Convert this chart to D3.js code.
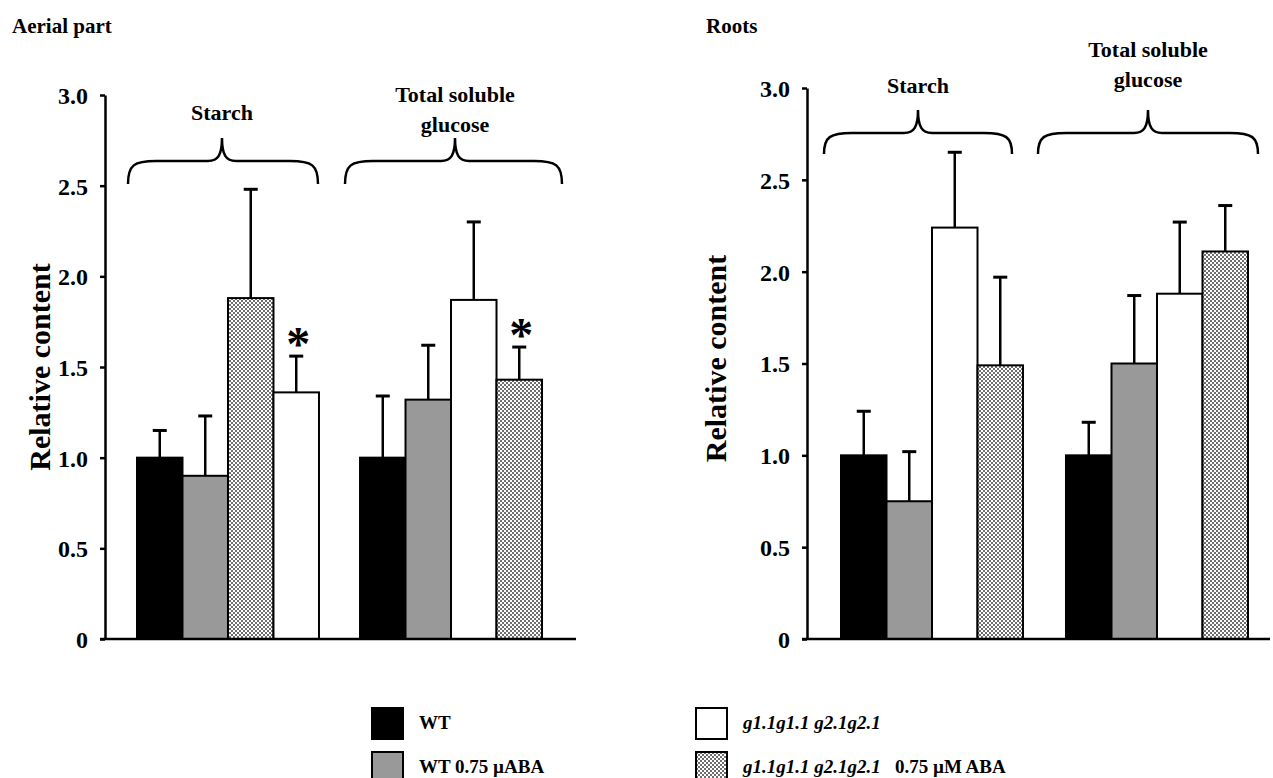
<!DOCTYPE html>
<html>
<head>
<meta charset="utf-8">
<script src="https://cdn.jsdelivr.net/npm/d3@7"></script>
<style>
  html, body { margin: 0; padding: 0; background: #fff; }
  svg { display: block; }
  text { font-family: "Liberation Serif", "Times New Roman", serif; font-weight: bold; fill: #000; }
</style>
</head>
<body>
<svg id="chart" width="1273" height="778"></svg>
<script>
// Groups along the x axis
const groups = ["Starch", "Total soluble glucose"];
const yTicks = [0, 0.5, 1.0, 1.5, 2.0, 2.5, 3.0];
const yTickLabels = ["0", "0.5", "1.0", "1.5", "2.0", "2.5", "3.0"];

// Series keys (fill style)
const seriesKeys = ["wt", "wtABA", "mut", "mutABA"];

// Aerial part: means, upper SD, and the series drawn in each slot
const aerialMean = [[1.00, 0.90, 1.88, 1.36], [1.00, 1.32, 1.87, 1.43]];
const aerialErr  = [[0.15, 0.33, 0.60, 0.20], [0.34, 0.30, 0.43, 0.18]];
const aerialSlots = [["wt", "wtABA", "mutABA", "mut"], ["wt", "wtABA", "mut", "mutABA"]];
const aerialStars = [[false, false, false, true], [false, false, false, true]];

// Roots: means, upper SD, slot order
const rootMean = [[1.00, 0.75, 2.24, 1.49], [1.00, 1.50, 1.88, 2.11]];
const rootErr  = [[0.24, 0.27, 0.41, 0.48], [0.18, 0.37, 0.39, 0.25]];
const rootSlots = [["wt", "wtABA", "mut", "mutABA"], ["wt", "wtABA", "mut", "mutABA"]];
const rootStars = [[false, false, false, false], [false, false, false, false]];

const svg = d3.select("#chart");

// Dotted fill for the ABA-treated mutant
const defs = svg.append("defs");
const pat = defs.append("pattern")
  .attr("id", "dots").attr("patternUnits", "userSpaceOnUse")
  .attr("width", 4).attr("height", 4);
pat.append("rect").attr("width", 4).attr("height", 4).attr("fill", "#fff");
pat.append("rect").attr("x", 0).attr("y", 0).attr("width", 2).attr("height", 2).attr("fill", "#6e6e6e");
pat.append("rect").attr("x", 2).attr("y", 2).attr("width", 2).attr("height", 2).attr("fill", "#6e6e6e");

const fills = { wt: "#000", wtABA: "#999", mut: "#fff", mutABA: "url(#dots)" };

function bracePath(x0, x1, xm, yTip, yArm, yEnd) {
  const p = d3.path();
  const r = 14;
  p.moveTo(x0, yEnd);
  p.bezierCurveTo(x0, yArm + 4, x0 + 6, yArm, x0 + r * 2, yArm);
  p.lineTo(xm - r, yArm);
  p.bezierCurveTo(xm - 4, yArm, xm, yArm - 6, xm, yTip);
  p.bezierCurveTo(xm, yArm - 6, xm + 4, yArm, xm + r, yArm);
  p.lineTo(x1 - r * 2, yArm);
  p.bezierCurveTo(x1 - 6, yArm, x1, yArm + 4, x1, yEnd);
  return p.toString();
}

function panel(cfg) {
  const g = svg.append("g");
  const y = d3.scaleLinear().domain([0, 3]).range([cfg.y0, cfg.y3]);
  const gx = d3.scaleBand().domain(groups).range(cfg.barRange)
    .paddingInner(cfg.padInner).paddingOuter(0);
  const ix = d3.scaleBand().domain(d3.range(4)).range([0, gx.bandwidth()]).padding(0);

  // Title
  g.append("text").attr("x", cfg.titleX).attr("y", 33)
    .attr("font-size", 21).text(cfg.title);

  // Y axis
  const axis = d3.axisLeft(y).tickValues(yTicks)
    .tickFormat((d, i) => yTickLabels[i]).tickSizeInner(5).tickSizeOuter(0).tickPadding(12);
  const ag = g.append("g").attr("transform", `translate(${cfg.axisX},0)`).call(axis);
  ag.select(".domain").attr("stroke", "#000").attr("stroke-width", 2.5);
  ag.selectAll(".tick line").attr("stroke", "#000").attr("stroke-width", 2.5);
  ag.selectAll(".tick text").attr("font-size", 24).attr("font-family", "Liberation Serif")
    .attr("font-weight", "bold").attr("fill", "#000").attr("dy", "0.35em");

  // Y label
  g.append("text")
    .attr("transform", `translate(${cfg.labelX},${(cfg.y0 + cfg.y3) / 2 + cfg.labelDy}) rotate(-90)`)
    .attr("text-anchor", "middle").attr("font-size", 30).text("Relative content");

  // Bars
  groups.forEach((grp, gi) => {
    const gg = g.append("g").attr("transform", `translate(${gx(grp)},0)`);
    cfg.mean[gi].forEach((v, i) => {
      const x = ix(i), w = ix.bandwidth();
      gg.append("rect").attr("x", x).attr("y", y(v))
        .attr("width", w).attr("height", y(0) - y(v))
        .attr("fill", fills[cfg.slots[gi][i]])
        .attr("stroke", "#000").attr("stroke-width", 2);
      const cx = x + w / 2, top = y(v + cfg.err[gi][i]);
      gg.append("line").attr("x1", cx).attr("x2", cx).attr("y1", y(v)).attr("y2", top)
        .attr("stroke", "#000").attr("stroke-width", 2.5);
      gg.append("line").attr("x1", cx - 7).attr("x2", cx + 7).attr("y1", top).attr("y2", top)
        .attr("stroke", "#000").attr("stroke-width", 3);
      if (cfg.stars[gi][i]) {
        gg.append("text").attr("x", cx + 2).attr("y", top + 4)
          .attr("text-anchor", "middle").attr("font-size", 48).attr("font-family", "DejaVu Sans")
          .text("*");
      }
    });
    // Brace and group label
    const b = cfg.braces[gi];
    const c0 = gx(grp) + b[0], c1 = gx(grp) + gx.bandwidth() + b[1], cm = gx(grp) + gx.bandwidth() / 2 + b[2];
    g.append("path").attr("d", bracePath(c0, c1, cm, cfg.braceY[0], cfg.braceY[1], cfg.braceY[2]))
      .attr("fill", "none").attr("stroke", "#000").attr("stroke-width", 2.5);
    const lines = gi === 0 ? ["Starch"] : ["Total soluble", "glucose"];
    const ys = gi === 0 ? [cfg.starchY] : cfg.glucoseY;
    lines.forEach((t, k) => {
      g.append("text").attr("x", cm).attr("y", ys[k]).attr("text-anchor", "middle")
        .attr("font-size", 22).text(t);
    });
  });

  // X axis line
  g.append("line").attr("x1", cfg.axisX - 5).attr("x2", cfg.xEnd)
    .attr("y1", y(0)).attr("y2", y(0)).attr("stroke", "#000").attr("stroke-width", 2.5);
}

panel({
  title: "Aerial part", titleX: 12,
  y0: 639, y3: 95, axisX: 105, labelX: 50, labelDy: 0,
  barRange: [137, 542], padInner: 0.184, xEnd: 576,
  mean: aerialMean, err: aerialErr, slots: aerialSlots, stars: aerialStars,
  braces: [[-9, -1, -6], [-15, 20, 4]], braceY: [138, 161, 184],
  starchY: 120, glucoseY: [102, 132]
});

panel({
  title: "Roots", titleX: 706,
  y0: 639, y3: 88, axisX: 807, labelX: 726, labelDy: -5,
  barRange: [841, 1248], padInner: 0.191, xEnd: 1270,
  mean: rootMean, err: rootErr, slots: rootSlots, stars: rootStars,
  braces: [[-17, -11, -14], [-28, 10, -9]], braceY: [110, 133, 154],
  starchY: 93, glucoseY: [57, 87]
});

// Legend
const legendItems = [
  { key: "wt", x: 372, y: 708, parts: [{ t: "WT" }] },
  { key: "wtABA", x: 372, y: 752, parts: [{ t: "WT 0.75 µABA" }] },
  { key: "mut", x: 696, y: 708, parts: [{ t: "g1.1g1.1 g2.1g2.1", i: true }] },
  { key: "mutABA", x: 696, y: 752, parts: [{ t: "g1.1g1.1 g2.1g2.1", i: true }, { t: "\u00a0\u00a0 0.75 µM ABA" }] }
];
const lg = svg.append("g");
legendItems.forEach(d => {
  lg.append("rect").attr("x", d.x).attr("y", d.y).attr("width", 31).attr("height", 31)
    .attr("fill", fills[d.key]).attr("stroke", "#000").attr("stroke-width", 2);
  const t = lg.append("text").attr("x", d.x + 47).attr("y", d.y + 21).attr("font-size", 19);
  d.parts.forEach(p => {
    t.append("tspan").attr("font-style", p.i ? "italic" : "normal").text(p.t);
  });
});
</script>
</body>
</html>
